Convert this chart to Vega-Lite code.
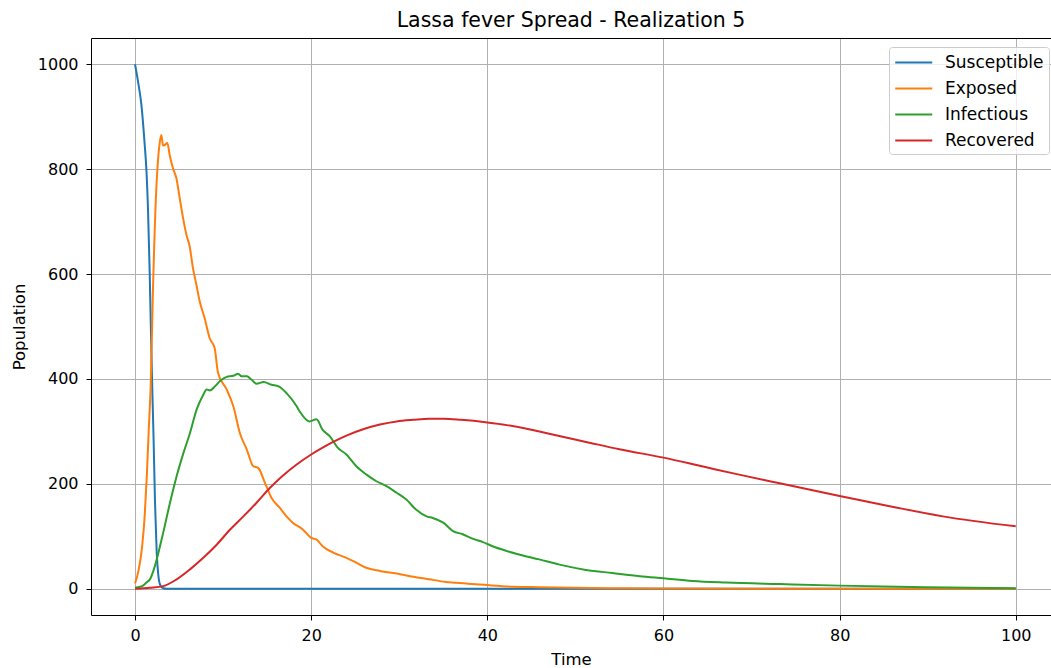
{
  "$schema": "https://vega.github.io/schema/vega-lite/v6.json",
  "autosize": {"type": "none"},
  "padding": {"left": 91, "top": 38, "right": 0, "bottom": 53},
  "width": 960,
  "height": 577,
  "background": "white",
  "config": {
    "font": "DejaVu Sans",
    "view": {"stroke": null},
    "axis": {
      "domainColor": "black", "domainWidth": 1,
      "tickColor": "black", "tickWidth": 1, "tickSize": 5,
      "gridColor": "#b0b0b0", "gridWidth": 1,
      "labelFont": "DejaVu Sans", "labelFontSize": 16, "labelColor": "black",
      "titleFont": "DejaVu Sans", "titleFontSize": 16.5, "titleFontWeight": "normal", "titleColor": "black"
    }
  },
  "title": {
    "text": "Lassa fever Spread - Realization 5",
    "font": "DejaVu Sans", "fontSize": 20.5, "fontWeight": "normal", "color": "black",
    "anchor": "middle", "offset": 7
  },
  "data": {"values": [
    {"s":"Susceptible","t":0,"v":1000},{"s":"Susceptible","t":0.34,"v":967},{"s":"Susceptible","t":0.72,"v":923},{"s":"Susceptible","t":1.1,"v":846},{"s":"Susceptible","t":1.29,"v":799},{"s":"Susceptible","t":1.48,"v":719},{"s":"Susceptible","t":1.66,"v":605},{"s":"Susceptible","t":1.78,"v":510},{"s":"Susceptible","t":1.93,"v":400},{"s":"Susceptible","t":2.1,"v":290},{"s":"Susceptible","t":2.27,"v":164},{"s":"Susceptible","t":2.46,"v":69},{"s":"Susceptible","t":2.65,"v":25},{"s":"Susceptible","t":2.84,"v":8},{"s":"Susceptible","t":3.2,"v":1},{"s":"Susceptible","t":3.6,"v":0},{"s":"Susceptible","t":10,"v":0},{"s":"Susceptible","t":50,"v":0},{"s":"Susceptible","t":100,"v":0},
    {"s":"Exposed","t":0,"v":10},{"s":"Exposed","t":0.4,"v":35},{"s":"Exposed","t":0.8,"v":80},{"s":"Exposed","t":1.1,"v":140},{"s":"Exposed","t":1.35,"v":220},{"s":"Exposed","t":1.55,"v":300},{"s":"Exposed","t":1.78,"v":390},{"s":"Exposed","t":2.04,"v":573},{"s":"Exposed","t":2.42,"v":764},{"s":"Exposed","t":2.6,"v":815},{"s":"Exposed","t":2.8,"v":850},{"s":"Exposed","t":2.99,"v":865},{"s":"Exposed","t":3.18,"v":845},{"s":"Exposed","t":3.37,"v":846},{"s":"Exposed","t":3.67,"v":850},{"s":"Exposed","t":3.93,"v":827},{"s":"Exposed","t":4.3,"v":802},{"s":"Exposed","t":4.69,"v":783},{"s":"Exposed","t":5.07,"v":745},{"s":"Exposed","t":5.45,"v":707},{"s":"Exposed","t":5.83,"v":675},{"s":"Exposed","t":6.2,"v":653},{"s":"Exposed","t":6.58,"v":611},{"s":"Exposed","t":6.96,"v":580},{"s":"Exposed","t":7.34,"v":548},{"s":"Exposed","t":7.9,"v":516},{"s":"Exposed","t":8.47,"v":478},{"s":"Exposed","t":9.04,"v":459},{"s":"Exposed","t":9.42,"v":412},{"s":"Exposed","t":10.4,"v":380},{"s":"Exposed","t":11.16,"v":348},{"s":"Exposed","t":11.9,"v":297},{"s":"Exposed","t":12.7,"v":265},{"s":"Exposed","t":13.4,"v":234},{"s":"Exposed","t":14.0,"v":230},{"s":"Exposed","t":14.75,"v":202},{"s":"Exposed","t":15.5,"v":173},{"s":"Exposed","t":16.4,"v":155},{"s":"Exposed","t":17.2,"v":138},{"s":"Exposed","t":17.9,"v":126},{"s":"Exposed","t":19.05,"v":113},{"s":"Exposed","t":20,"v":97},{"s":"Exposed","t":20.6,"v":94},{"s":"Exposed","t":21.3,"v":81},{"s":"Exposed","t":22.5,"v":69},{"s":"Exposed","t":24,"v":59},{"s":"Exposed","t":25.1,"v":50},{"s":"Exposed","t":26.25,"v":40},{"s":"Exposed","t":27.8,"v":34},{"s":"Exposed","t":29.7,"v":29},{"s":"Exposed","t":31.6,"v":23},{"s":"Exposed","t":33.4,"v":18},{"s":"Exposed","t":35.3,"v":13},{"s":"Exposed","t":37.6,"v":10},{"s":"Exposed","t":40,"v":7},{"s":"Exposed","t":42.9,"v":4},{"s":"Exposed","t":45.9,"v":3},{"s":"Exposed","t":50,"v":2},{"s":"Exposed","t":55,"v":1},{"s":"Exposed","t":60,"v":0.5},{"s":"Exposed","t":70,"v":0.2},{"s":"Exposed","t":100,"v":0},
    {"s":"Infectious","t":0,"v":2},{"s":"Infectious","t":0.8,"v":5},{"s":"Infectious","t":1.3,"v":12},{"s":"Infectious","t":1.7,"v":18},{"s":"Infectious","t":2.1,"v":35},{"s":"Infectious","t":2.46,"v":56},{"s":"Infectious","t":3.2,"v":107},{"s":"Infectious","t":3.97,"v":164},{"s":"Infectious","t":4.73,"v":215},{"s":"Infectious","t":5.5,"v":259},{"s":"Infectious","t":6.24,"v":297},{"s":"Infectious","t":7.0,"v":342},{"s":"Infectious","t":7.75,"v":370},{"s":"Infectious","t":8.13,"v":380},{"s":"Infectious","t":8.5,"v":378},{"s":"Infectious","t":9.08,"v":386},{"s":"Infectious","t":9.65,"v":396},{"s":"Infectious","t":10.4,"v":404},{"s":"Infectious","t":11.16,"v":406},{"s":"Infectious","t":11.7,"v":410},{"s":"Infectious","t":12.1,"v":405},{"s":"Infectious","t":12.7,"v":405},{"s":"Infectious","t":13.2,"v":399},{"s":"Infectious","t":13.8,"v":391},{"s":"Infectious","t":14.6,"v":394},{"s":"Infectious","t":15.5,"v":389},{"s":"Infectious","t":16.3,"v":386},{"s":"Infectious","t":17.2,"v":373},{"s":"Infectious","t":18.35,"v":348},{"s":"Infectious","t":18.7,"v":338},{"s":"Infectious","t":19.8,"v":319},{"s":"Infectious","t":20.6,"v":323},{"s":"Infectious","t":21.3,"v":303},{"s":"Infectious","t":22.1,"v":291},{"s":"Infectious","t":23.0,"v":269},{"s":"Infectious","t":24.0,"v":256},{"s":"Infectious","t":25.1,"v":234},{"s":"Infectious","t":26.25,"v":218},{"s":"Infectious","t":27.4,"v":205},{"s":"Infectious","t":28.5,"v":196},{"s":"Infectious","t":29.7,"v":183},{"s":"Infectious","t":30.8,"v":170},{"s":"Infectious","t":31.9,"v":151},{"s":"Infectious","t":33.1,"v":138},{"s":"Infectious","t":33.8,"v":135},{"s":"Infectious","t":35.0,"v":126},{"s":"Infectious","t":36.1,"v":110},{"s":"Infectious","t":37.2,"v":104},{"s":"Infectious","t":38.4,"v":95},{"s":"Infectious","t":39.5,"v":89},{"s":"Infectious","t":40.6,"v":81},{"s":"Infectious","t":42.2,"v":72},{"s":"Infectious","t":43.7,"v":65},{"s":"Infectious","t":45.9,"v":56},{"s":"Infectious","t":48.2,"v":46},{"s":"Infectious","t":51.2,"v":36},{"s":"Infectious","t":54.2,"v":30},{"s":"Infectious","t":57.3,"v":24},{"s":"Infectious","t":60,"v":20},{"s":"Infectious","t":63.3,"v":15},{"s":"Infectious","t":67.1,"v":12},{"s":"Infectious","t":73.2,"v":9},{"s":"Infectious","t":80,"v":6},{"s":"Infectious","t":89.8,"v":3},{"s":"Infectious","t":100,"v":1},
    {"s":"Recovered","t":0,"v":0},{"s":"Recovered","t":1.7,"v":2},{"s":"Recovered","t":3.2,"v":5},{"s":"Recovered","t":4.73,"v":18},{"s":"Recovered","t":6.24,"v":37},{"s":"Recovered","t":7.75,"v":59},{"s":"Recovered","t":9.27,"v":84},{"s":"Recovered","t":10.8,"v":113},{"s":"Recovered","t":12.3,"v":138},{"s":"Recovered","t":13.8,"v":164},{"s":"Recovered","t":15.3,"v":192},{"s":"Recovered","t":16.8,"v":216},{"s":"Recovered","t":18.35,"v":237},{"s":"Recovered","t":20,"v":256},{"s":"Recovered","t":21.3,"v":269},{"s":"Recovered","t":22.5,"v":280},{"s":"Recovered","t":24,"v":292},{"s":"Recovered","t":25.9,"v":304},{"s":"Recovered","t":27.8,"v":313},{"s":"Recovered","t":29.7,"v":319},{"s":"Recovered","t":31.6,"v":322},{"s":"Recovered","t":33.4,"v":324},{"s":"Recovered","t":35,"v":324},{"s":"Recovered","t":37,"v":322},{"s":"Recovered","t":40,"v":317},{"s":"Recovered","t":42.2,"v":312},{"s":"Recovered","t":45,"v":303},{"s":"Recovered","t":47.4,"v":294},{"s":"Recovered","t":51.2,"v":280},{"s":"Recovered","t":55,"v":266},{"s":"Recovered","t":60,"v":250},{"s":"Recovered","t":64.5,"v":233},{"s":"Recovered","t":68.2,"v":219},{"s":"Recovered","t":73.2,"v":201},{"s":"Recovered","t":80,"v":177},{"s":"Recovered","t":86.1,"v":156},{"s":"Recovered","t":91.7,"v":138},{"s":"Recovered","t":100,"v":119}
  ]},
  "layer": [
    {
      "mark": {"type": "rule", "opacity": 0},
      "encoding": {
        "x": {"field": "t", "type": "quantitative", "scale": {"domain": [-5, 104], "nice": false, "zero": false},
          "axis": {"orient": "top", "title": null, "labels": false, "ticks": false, "grid": false, "domain": true}}
      }
    },
    {
      "mark": {"type": "line", "strokeWidth": 2, "interpolate": "monotone", "clip": true},
      "encoding": {
        "x": {"field": "t", "type": "quantitative", "scale": {"domain": [-5, 104], "nice": false, "zero": false},
          "axis": {"orient": "bottom", "title": "Time", "values": [0, 20, 40, 60, 80, 100], "format": "d", "labelPadding": 7, "titlePadding": 8, "grid": true, "labelFlush": false}},
        "y": {"field": "v", "type": "quantitative", "scale": {"domain": [-50, 1050], "nice": false, "zero": false},
          "axis": {"title": "Population", "values": [0, 200, 400, 600, 800, 1000], "format": "d", "labelPadding": 8, "titlePadding": 10, "grid": true, "labelFlush": false}},
        "color": {"field": "s", "type": "nominal",
          "scale": {"domain": ["Susceptible", "Exposed", "Infectious", "Recovered"], "range": ["#1f77b4", "#ff7f0e", "#2ca02c", "#d62728"]},
          "legend": {"title": null, "orient": "none", "legendX": 798, "legendY": 9,
            "symbolType": "M-1,0H3", "symbolSize": 342, "symbolStrokeWidth": 2, "symbolFillColor": "transparent",
            "labelFont": "DejaVu Sans", "labelFontSize": 17, "labelColor": "black", "labelOffset": 30,
            "rowPadding": 7, "padding": 5, "strokeColor": "#cccccc", "fillColor": "rgba(255,255,255,0.8)", "cornerRadius": 3}},
        "order": {"field": "t", "type": "quantitative"}
      }
    }
  ],
  "resolve": {"axis": {"x": "independent"}}
}
